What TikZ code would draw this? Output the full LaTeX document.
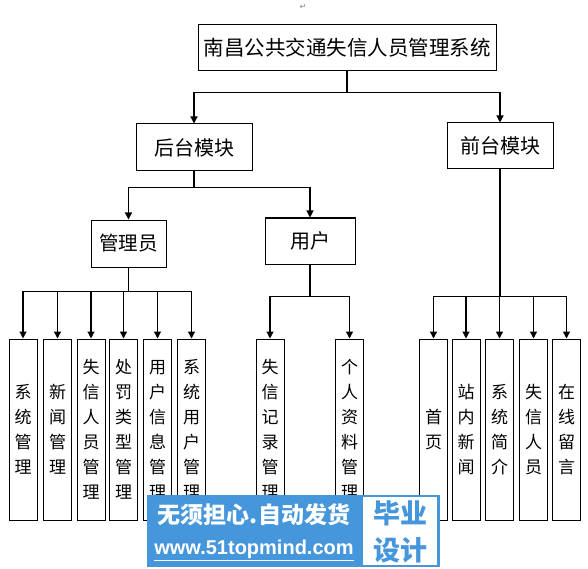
\documentclass[tikz,border=0pt]{standalone}
\usepackage{fontspec}
\newfontfamily\cjk{Noto Sans CJK SC}
\newfontfamily\symfont{DejaVu Sans}
\newfontfamily\wmfont{Liberation Sans}
\usetikzlibrary{arrows.meta}
\definecolor{wmblue}{RGB}{70,150,220}
\tikzset{
  >={Triangle[length=7pt,width=7pt]},
  box/.style={draw,line width=1pt,inner sep=0pt,align=center,
    font=\cjk\fontsize{20}{24}\selectfont},
  leaf/.style={box,minimum width=28pt,minimum height=181pt,
    font=\cjk\fontsize{17}{25}\selectfont},
  flow/.style={->,line width=1.2pt},
}

\begin{document}
\begin{tikzpicture}[x=1pt,y=-1pt]
  \useasboundingbox (0,0) rectangle (588,569);
  \node[text=gray,font=\symfont\fontsize{8}{8}\selectfont] (ret) at (303,7) {↵};
  % top levels
  \node[box,minimum width=298pt,minimum height=46pt,font=\cjk\fontsize{20.5}{24}\selectfont] (sys) at (347,48) {南昌公共交通失信人员管理系统};
  \node[box,minimum width=116pt,minimum height=47pt] (hb) at (194,147.5) {后台模块};
  \node[box,minimum width=106pt,minimum height=46pt] (qt) at (500,146) {前台模块};
  \node[box,minimum width=75pt,minimum height=47pt,font=\cjk\fontsize{19.5}{24}\selectfont] (gly) at (128.5,243.5) {管理员};
  \node[box,minimum width=90pt,minimum height=46pt] (yh) at (310,241) {用户};
  \draw[flow] (sys.south) -- ++(0,21) -| (hb.north);
  \draw[flow] (sys.south) -- ++(0,21) -| (qt.north);
  \draw[flow] (hb.south) -- ++(0,16) -| (gly.north);
  \draw[flow] (hb.south) -- ++(0,16) -| (yh.north);
  % leaves
  \foreach \x/\t [count=\i] in {23/系\\统\\管\\理, 57.5/新\\闻\\管\\理,
      91/失\\信\\人\\员\\管\\理, 123.5/处\\罚\\类\\型\\管\\理,
      157.5/用\\户\\信\\息\\管\\理, 191.5/系\\统\\用\\户\\管\\理}
  {
    \node[leaf] (a\i) at (\x,429.5) {\t};
    \draw[flow] (gly.south) -- ++(0,24) -| (a\i.north);
  }
  \foreach \x/\t [count=\i] in {270/失\\信\\记\\录\\管\\理, 349.5/个\\人\\资\\料\\管\\理}
  {
    \node[leaf] (u\i) at (\x,429.5) {\t};
    \draw[flow] (yh.south) -- ++(0,32) -| (u\i.north);
  }
  \foreach \x/\t [count=\i] in {433.5/首\\页, 466/站\\内\\新\\闻, 499.5/系\\统\\简\\介,
      533.5/失\\信\\人\\员, 566.5/在\\线\\留\\言}
  {
    \node[leaf] (f\i) at (\x,429.5) {\t};
    \draw[flow] (qt.south) -- ++(0,127) -| (f\i.north);
  }
  % watermark
  \fill[wmblue] (147,495) rectangle (440,567);
  \fill[white] (363,497) rectangle (437,565);
  \node[text=white,font=\cjk\bfseries\fontsize{23}{23}\selectfont] (wm1) at (254,515) {无须担心.自动发货};
  \node[text=white,font=\wmfont\bfseries\fontsize{20}{20}\selectfont] (wm2) at (254,550) {\underline{www.51topmind.com}};
  \node[text=wmblue,align=center,font=\cjk\bfseries\fontsize{27}{37}\selectfont] (wm3) at (400,532) {毕业\\设计};
\end{tikzpicture}
\end{document}
